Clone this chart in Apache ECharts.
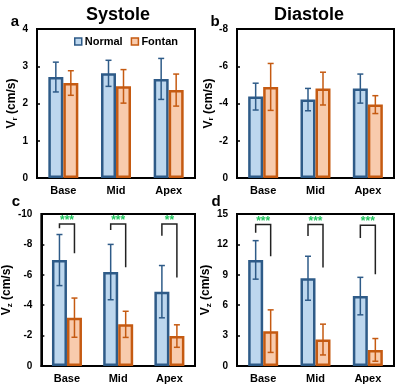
<!DOCTYPE html>
<html>
<head>
<meta charset="utf-8">
<script src="https://cdn.jsdelivr.net/npm/echarts@6/dist/echarts.min.js"></script>
<style>
  html, body { margin: 0; padding: 0; background: #fff; }
  #chart { width: 400px; height: 386px; }
</style>
</head>
<body>
<div id="chart"></div>
<script>
var FONT = '"Liberation Sans", Arial, sans-serif';

var categories = ['Base', 'Mid', 'Apex'];

// a: Vr systole
var sysNormal = [2.71, 2.81, 2.66];
var sysNormalErr = [0.40, 0.35, 0.55];
var sysFontan = [2.55, 2.46, 2.36];
var sysFontanErr = [0.33, 0.45, 0.43];

// b: Vr diastole
var diaNormal = [-4.37, -4.21, -4.80];
var diaNormalErr = [0.72, 0.60, 0.78];
var diaFontan = [-4.89, -4.80, -3.94];
var diaFontanErr = [1.26, 0.88, 0.48];

// c: Vz systole
var vzSysNormal = [-6.97, -6.18, -4.89];
var vzSysNormalErr = [1.68, 1.82, 1.72];
var vzSysFontan = [-3.18, -2.74, -1.97];
var vzSysFontanErr = [1.29, 0.86, 0.74];

// d: Vz diastole
var vzDiaNormal = [10.47, 8.66, 6.90];
var vzDiaNormalErr = [1.90, 2.17, 1.85];
var vzDiaFontan = [3.44, 2.61, 1.59];
var vzDiaFontanErr = [2.10, 1.52, 1.12];

// significance brackets (top, left leg end, right leg end)
var sigC = ['***', '***', '**'];
var sigCTop = [-9.34, -9.34, -9.34];
var sigCLeft = [-9.06, -8.95, -8.57];
var sigCRight = [-7.41, -6.49, -5.83];

var sigD = ['***', '***', '***'];
var sigDTop = [13.97, 13.97, 13.9];
var sigDLeft = [13.15, 12.82, 12.62];
var sigDRight = [10.84, 9.71, 9.05];

var BLUE = '#2E5B88', BLUE_FILL = '#BDD7EE';
var ORANGE = '#C55A11', ORANGE_FILL = '#F8CBAD';
var BAR_W = 15;

var chart = echarts.init(document.getElementById('chart'), null, { renderer: 'canvas' });

var grids = [
  { left: 37, right: 205, top: 29, bottom: 208 },
  { left: 237, right: 6, top: 29, bottom: 208 },
  { left: 37, right: 205, top: 214, bottom: 20 },
  { left: 237, right: 6, top: 214, bottom: 20 }
].map(function (g) {
  return Object.assign({ show: true, borderColor: '#000', borderWidth: 2, backgroundColor: '#fff' }, g);
});

function xAxis(i) {
  return {
    type: 'category', gridIndex: i, data: categories,
    axisLine: { lineStyle: { color: '#000', width: 2 } },
    axisTick: { show: false },
    axisLabel: { color: '#000', fontWeight: 'bold', fontSize: 11, fontFamily: FONT, margin: 7 }
  };
}

function yAxis(i, min, max, interval, inverse, sub) {
  return {
    type: 'value', gridIndex: i, min: min, max: max, interval: interval, inverse: inverse,
    name: '{v|V}{s|' + sub + '}{v| (cm/s)}',
    nameLocation: 'middle', nameGap: 16,
    nameTextStyle: {
      rich: {
        v: { fontSize: 12, fontWeight: 'bold', fontFamily: FONT, color: '#000', lineHeight: 14 },
        s: { fontSize: 8, fontWeight: 'bold', fontFamily: FONT, color: '#000', verticalAlign: 'bottom', lineHeight: 8, padding: [5, 0, 0, 0] }
      }
    },
    splitLine: { show: false },
    axisLine: { show: true, lineStyle: { color: '#000', width: 2 } },
    axisTick: { show: true, inside: true, length: 3, lineStyle: { color: '#000', width: 1.5 } },
    axisLabel: { color: '#000', fontWeight: 'bold', fontSize: 10, fontFamily: FONT, margin: 9 }
  };
}

function bar(name, i, data, fill, border) {
  return {
    name: name, type: 'bar', xAxisIndex: i, yAxisIndex: i, data: data,
    barWidth: BAR_W, barGap: '0%',
    itemStyle: { color: fill, borderColor: border, borderWidth: 2.5 },
    emphasis: { disabled: true }
  };
}

function errBars(i, vals, errs, offset, color) {
  return {
    type: 'custom', xAxisIndex: i, yAxisIndex: i, z: 5, silent: true,
    data: vals.map(function (v, k) { return [k, v, errs[k]]; }),
    renderItem: function (params, api) {
      var k = api.value(0), v = api.value(1), e = api.value(2);
      var hi = api.coord([k, v + e]), lo = api.coord([k, v - e]);
      var cx = hi[0] + offset, cap = 3;
      var st = { stroke: color, lineWidth: 1.5 };
      return {
        type: 'group', children: [
          { type: 'line', shape: { x1: cx, y1: hi[1], x2: cx, y2: lo[1] }, style: st },
          { type: 'line', shape: { x1: cx - cap, y1: hi[1], x2: cx + cap, y2: hi[1] }, style: st },
          { type: 'line', shape: { x1: cx - cap, y1: lo[1], x2: cx + cap, y2: lo[1] }, style: st }
        ]
      };
    }
  };
}

function brackets(i, top, left, right, stars) {
  return {
    type: 'custom', xAxisIndex: i, yAxisIndex: i, z: 6, silent: true,
    data: top.map(function (t, k) { return [k, t, left[k], right[k]]; }),
    renderItem: function (params, api) {
      var k = api.value(0);
      var t = api.coord([k, api.value(1)]);
      var l = api.coord([k, api.value(2)]);
      var r = api.coord([k, api.value(3)]);
      var xl = t[0] - BAR_W / 2, xr = t[0] + BAR_W / 2;
      return {
        type: 'group', children: [
          { type: 'polyline', shape: { points: [[xl, l[1]], [xl, t[1]], [xr, t[1]], [xr, r[1]]] },
            style: { stroke: '#222', lineWidth: 1.5, fill: null } },
          { type: 'text', x: t[0], y: t[1] + 3,
            style: { text: stars[params.dataIndex], fill: '#22C55E', font: 'bold 12px ' + FONT,
                     align: 'center', verticalAlign: 'bottom' } }
        ]
      };
    }
  };
}

function title(text, x, y, size) {
  return { text: text, left: x, top: y, textAlign: 'center',
           textStyle: { fontSize: size, fontWeight: 'bold', fontFamily: FONT, color: '#000' } };
}

var option = {
  animation: false,
  backgroundColor: '#fff',
  title: [
    title('Systole', 113, 1, 18),
    title('Diastole', 304, 1, 18),
    title('a', 10, 9, 15),
    title('b', 210, 9, 15),
    title('c', 11, 189, 15),
    title('d', 211, 189, 15)
  ],
  legend: {
    data: ['Normal', 'Fontan'], left: 69, top: 31, itemWidth: 7, itemHeight: 7, itemGap: 8,
    icon: 'rect',
    itemStyle: { borderWidth: 1.5 },
    textStyle: { fontSize: 11, fontWeight: 'bold', fontFamily: FONT, color: '#000', padding: [0, 0, 0, -2] }
  },
  grid: grids,
  xAxis: [xAxis(0), xAxis(1), xAxis(2), xAxis(3)],
  yAxis: [
    yAxis(0, 0, 4, 1, false, 'r'),
    yAxis(1, -8, 0, 2, true, 'r'),
    yAxis(2, -10, 0, 2, true, 'z'),
    yAxis(3, 0, 15, 3, false, 'z')
  ],
  series: [
    bar('Normal', 0, sysNormal, BLUE_FILL, BLUE),
    bar('Fontan', 0, sysFontan, ORANGE_FILL, ORANGE),
    bar('Normal', 1, diaNormal, BLUE_FILL, BLUE),
    bar('Fontan', 1, diaFontan, ORANGE_FILL, ORANGE),
    bar('Normal', 2, vzSysNormal, BLUE_FILL, BLUE),
    bar('Fontan', 2, vzSysFontan, ORANGE_FILL, ORANGE),
    bar('Normal', 3, vzDiaNormal, BLUE_FILL, BLUE),
    bar('Fontan', 3, vzDiaFontan, ORANGE_FILL, ORANGE),
    errBars(0, sysNormal, sysNormalErr, -BAR_W / 2, BLUE),
    errBars(0, sysFontan, sysFontanErr, BAR_W / 2, ORANGE),
    errBars(1, diaNormal, diaNormalErr, -BAR_W / 2, BLUE),
    errBars(1, diaFontan, diaFontanErr, BAR_W / 2, ORANGE),
    errBars(2, vzSysNormal, vzSysNormalErr, -BAR_W / 2, BLUE),
    errBars(2, vzSysFontan, vzSysFontanErr, BAR_W / 2, ORANGE),
    errBars(3, vzDiaNormal, vzDiaNormalErr, -BAR_W / 2, BLUE),
    errBars(3, vzDiaFontan, vzDiaFontanErr, BAR_W / 2, ORANGE),
    brackets(2, sigCTop, sigCLeft, sigCRight, sigC),
    brackets(3, sigDTop, sigDLeft, sigDRight, sigD)
  ]
};

chart.setOption(option);
</script>
</body>
</html>
